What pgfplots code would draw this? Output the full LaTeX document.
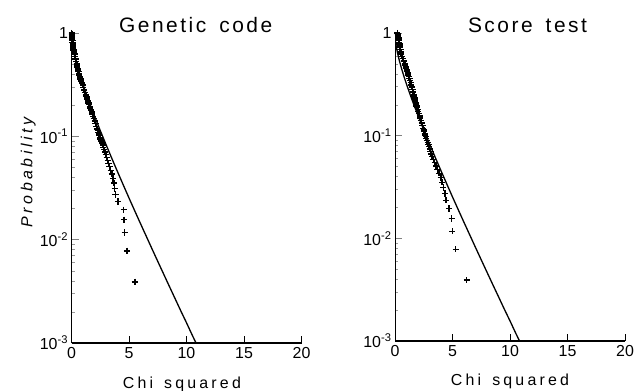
\documentclass[border=0pt]{standalone}
\usepackage{fontspec}
\setmainfont{Liberation Sans}
\usepackage{pgfplots}
\usepackage{pgfplotstable}
\pgfplotsset{compat=1.18}

\pgfplotstableread{
p xgen xscore
1.0 0.02 0.20
0.98438 0.025 0.21
0.96875 0.03 0.23
0.95313 0.035 0.24
0.9375 0.04 0.25
0.92188 0.045 0.27
0.90625 0.05 0.29
0.89063 0.058 0.30
0.875 0.066 0.31
0.84375 0.08 0.34
0.8125 0.092 0.36
0.78125 0.11 0.39
0.75 0.13 0.42
0.71875 0.15 0.44
0.6875 0.18 0.47
0.65625 0.22 0.50
0.625 0.26 0.54
0.59375 0.30 0.61
0.5625 0.35 0.68
0.53125 0.40 0.76
0.5 0.45 0.84
0.48438 0.48 0.89
0.46875 0.51 0.93
0.45313 0.54 0.98
0.4375 0.57 1.03
0.42188 0.61 1.07
0.40625 0.64 1.11
0.39063 0.68 1.16
0.375 0.74 1.21
0.35938 0.79 1.26
0.34375 0.84 1.31
0.32813 0.90 1.37
0.3125 0.97 1.42
0.29688 1.03 1.47
0.28125 1.10 1.52
0.26563 1.18 1.58
0.25 1.26 1.63
0.24219 1.30 1.66
0.23438 1.34 1.70
0.22656 1.38 1.73
0.21875 1.43 1.76
0.21094 1.48 1.80
0.20313 1.53 1.83
0.19531 1.58 1.87
0.1875 1.63 1.92
0.17969 1.69 1.97
0.17188 1.75 2.03
0.16406 1.81 2.08
0.15625 1.87 2.14
0.14844 1.94 2.19
0.14063 2.01 2.26
0.13281 2.08 2.32
0.125 2.16 2.39
0.11719 2.24 2.46
0.11328 2.29 2.50
0.10938 2.33 2.54
0.10547 2.38 2.58
0.10156 2.43 2.62
0.09766 2.48 2.67
0.09375 2.53 2.73
0.08984 2.59 2.78
0.08594 2.65 2.84
0.08203 2.71 2.91
0.07813 2.77 2.97
0.07422 2.84 3.02
0.07031 2.91 3.08
0.06641 2.98 3.14
0.0625 3.06 3.22
0.05859 3.14 3.33
0.05469 3.22 3.45
0.05078 3.31 3.58
0.04688 3.40 3.70
0.04297 3.50 3.83
0.03906 3.60 3.98
0.03516 3.70 4.10
0.03125 3.76 4.20
0.02734 3.82 4.35
0.02344 4.04 4.43
0.01953 4.54 4.70
0.01563 4.57 4.93
0.01172 4.63 4.98
0.00781 4.83 5.28
0.00391 5.50 6.23
}\crosses

\pgfplotstableread{
x p
0 1
0.05 0.8231
0.1 0.7518
0.2 0.6547
0.3 0.5839
0.4 0.5271
0.6 0.4386
0.8 0.3711
1 0.3173
1.25 0.2636
1.5 0.2207
2 0.1573
2.5 0.1138
3 0.0833
3.5 0.0614
4 0.0455
4.5 0.0339
5 0.0253
5.5 0.0190
6 0.0143
6.5 0.0108
7 0.00815
7.5 0.00617
8 0.00468
8.5 0.00355
9 0.00270
9.5 0.00205
10 0.00157
10.5 0.00119
10.83 0.0010
}\chiline

\begin{document}
\begin{tikzpicture}
\path[use as bounding box] (0,0) rectangle (637bp,391bp);
\begin{axis}[
  ymode=log,
  scale only axis,
  at={(71.5bp,48bp)}, anchor=south west,
  width=230bp, height=310bp,
  xmin=0, xmax=20, ymin=1e-3, ymax=1,
  axis x line=bottom, axis y line=left,
  axis line style={-, black},
  x axis line style={line width=1.2bp},
  y axis line style={line width=0.6bp},
  xtick={0,5,10,15,20},
  ytick={1e-3,1e-2,1e-1,1},
  yticklabels={10\textsuperscript{-3},10\textsuperscript{-2},10\textsuperscript{-1},1\hspace{22bp}},
  tick align=inside,
  major tick length=7bp,
  minor tick length=3bp,
  x tick style={line width=0.6bp, black},
  y tick style={line width=0.5bp, black!50},
  minor y tick style={line width=0.5bp, black!40},
  tick label style={font=\fontsize{16}{16}\selectfont},
  xticklabel style={yshift=-1bp},
  title={Genetic\hspace{13bp}code},
  title style={font=\fontsize{21}{21}\selectfont\addfontfeatures{LetterSpace=12}, anchor=base, at={(axis description cs:0.54,1)}, yshift=-5bp},
  xlabel={Chi\hspace{11bp}squared},
  xlabel style={font=\fontsize{16}{16}\selectfont\addfontfeatures{LetterSpace=20}, anchor=base, at={(axis description cs:0.48,0)}, yshift=-45bp},
  ylabel={Probability},
  ylabel style={font=\fontsize{16}{16}\selectfont\itshape\addfontfeatures{LetterSpace=22}, at={(axis description cs:-0.17,0.55)}, anchor=base},
  /pgf/number format/assume math mode=true,
]
\addplot[black, line width=1.3bp, no marks] table[x=x, y=p] {\chiline};
\addplot[only marks, mark=+, mark size=3.1bp, mark options={line width=1.5bp, black}] table[x=xgen, y=p] {\crosses};
\end{axis}
\begin{axis}[
  ymode=log,
  scale only axis,
  at={(395bp,50bp)}, anchor=south west,
  width=230bp, height=308bp,
  xmin=0, xmax=20, ymin=1e-3, ymax=1,
  axis x line=bottom, axis y line=left,
  axis line style={-, black},
  x axis line style={line width=1.2bp},
  y axis line style={line width=0.6bp},
  xtick={0,5,10,15,20},
  ytick={1e-3,1e-2,1e-1,1},
  yticklabels={10\textsuperscript{-3},10\textsuperscript{-2},10\textsuperscript{-1},1\hspace{22bp}},
  tick align=inside,
  major tick length=7bp,
  minor tick length=3bp,
  x tick style={line width=0.6bp, black},
  y tick style={line width=0.5bp, black!50},
  minor y tick style={line width=0.5bp, black!40},
  tick label style={font=\fontsize{16}{16}\selectfont},
  xticklabel style={yshift=-1bp},
  title={Score\hspace{13bp}test},
  title style={font=\fontsize{21}{21}\selectfont\addfontfeatures{LetterSpace=12}, anchor=base, at={(axis description cs:0.576,1)}, yshift=-5bp},
  xlabel={Chi\hspace{11bp}squared},
  xlabel style={font=\fontsize{16}{16}\selectfont\addfontfeatures{LetterSpace=20}, anchor=base, at={(axis description cs:0.50,0)}, yshift=-44bp},
  /pgf/number format/assume math mode=true,
]
\addplot[black, line width=1.3bp, no marks] table[x=x, y=p] {\chiline};
\addplot[only marks, mark=+, mark size=3.1bp, mark options={line width=1.5bp, black}] table[x=xscore, y=p] {\crosses};
\end{axis}
\end{tikzpicture}
\end{document}
